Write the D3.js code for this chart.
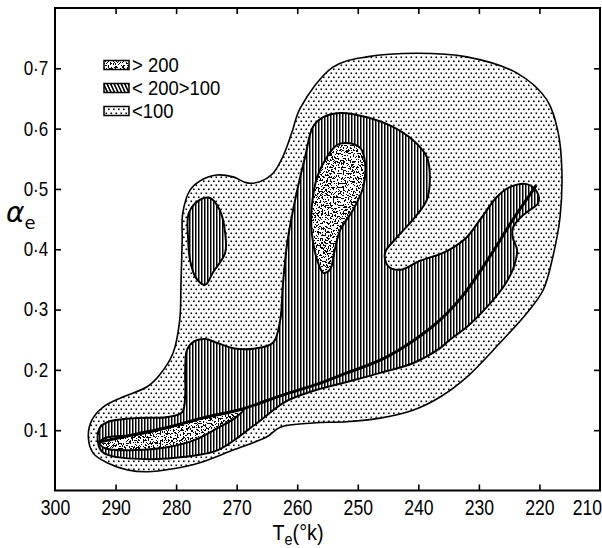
<!DOCTYPE html>
<html><head><meta charset="utf-8">
<script src="https://cdn.jsdelivr.net/npm/d3@7"></script>
<style>body{margin:0;background:#fff}svg{display:block}</style>
</head><body>
<svg id="chart" width="602" height="548"></svg>
<script>
// ---------- data (T_e in K, alpha_e) ----------
const xTickValues = [300,290,280,270,260,250,240,230,220,210];
const yTickValues = [0.1,0.2,0.3,0.4,0.5,0.6,0.7];
const legendLabels = ["> 200", "< 200>100", "<100"];

// boundary of the "<100" region (outer contour)
const outerLow = [[294.5,0.089],[293.9,0.117],[292.1,0.138],[288.8,0.155],[284.8,0.172],[282.7,0.192],[280.5,0.228],[279.4,0.283],[279.2,0.341],[279.0,0.415],[278.9,0.460],[277.7,0.498],[276.1,0.513],[273.3,0.523],[270.6,0.520],[268.3,0.510],[266.2,0.512],[264.0,0.526],[262.4,0.553],[260.9,0.593],[259.5,0.634],[254.1,0.702],[248.5,0.719],[240.2,0.725],[232.0,0.719],[223.7,0.692],[218.8,0.648],[216.9,0.593],[216.3,0.531],[216.6,0.453],[217.8,0.387],[219.4,0.332],[222.1,0.294],[226.5,0.245],[232.0,0.188],[236.4,0.155],[240.9,0.133],[246.3,0.120],[251.8,0.114],[257.4,0.112],[262.8,0.105],[265.0,0.089],[270.6,0.067],[276.1,0.046],[280.5,0.036],[284.8,0.031],[288.0,0.034],[291.4,0.046],[293.7,0.062]];

// "<200 >100" regions
const midLobe = [[277.9,0.460],[276.1,0.482],[274.4,0.485],[272.8,0.465],[271.9,0.427],[271.9,0.394],[273.9,0.362],[275.2,0.341],[276.7,0.352],[277.7,0.382],[278.0,0.415]];
const midMain = [[278.5,0.200],[278.2,0.233],[277.2,0.246],[275.2,0.251],[273.3,0.245],[270.6,0.236],[267.3,0.235],[264.0,0.245],[262.8,0.283],[262.4,0.337],[261.7,0.407],[261.0,0.449],[260.0,0.498],[258.7,0.553],[257.4,0.603],[255.7,0.619],[252.9,0.626],[248.5,0.619],[244.2,0.603],[240.9,0.581],[238.6,0.553],[238.1,0.520],[238.6,0.482],[240.9,0.449],[243.5,0.420],[245.5,0.394],[245.0,0.372],[243.0,0.366],[239.7,0.381],[236.4,0.392],[234.4,0.402],[232.0,0.420],[229.8,0.449],[227.0,0.487],[224.9,0.503],[222.1,0.508],[220.4,0.495],[220.2,0.477],[221.6,0.465],[223.2,0.452],[224.4,0.435],[224.4,0.419],[223.7,0.399],[224.4,0.366],[226.0,0.337],[228.7,0.304],[232.0,0.271],[234.8,0.250],[236.4,0.236],[240.9,0.211],[246.3,0.195],[251.8,0.180],[257.4,0.165],[262.0,0.147],[267.0,0.109],[273.1,0.067],[278.5,0.056],[284.0,0.052],[290.6,0.057],[292.2,0.064],[292.9,0.080],[292.6,0.104],[291.2,0.114],[286.8,0.120],[281.3,0.122],[279.0,0.130],[278.5,0.158]];

// "> 200" regions
const highUpper = [[253.4,0.573],[251.8,0.576],[249.6,0.568],[248.8,0.543],[249.1,0.503],[250.8,0.465],[252.9,0.432],[253.8,0.399],[254.6,0.366],[255.7,0.361],[256.7,0.382],[257.6,0.427],[257.6,0.470],[256.7,0.520],[255.1,0.553]];
const highTongue = [[292.6,0.079],[291.7,0.087],[286.8,0.092],[281.3,0.104],[275.7,0.120],[271.4,0.130],[268.8,0.135],[270.3,0.120],[273.1,0.104],[276.9,0.084],[281.3,0.072],[286.8,0.067],[291.7,0.070]];

// bold ridge curve
const ridgeLine = [[292.3,0.081],[286.8,0.093],[281.3,0.105],[275.7,0.120],[269.1,0.135],[262.8,0.157],[256.2,0.178],[251.8,0.195],[246.3,0.216],[240.9,0.248],[236.4,0.283],[232.6,0.324],[229.3,0.371],[226.5,0.415],[224.4,0.449],[222.1,0.483],[220.6,0.505]];

// ---------- layout ----------
const W = 602, H = 548;
const mL = 55, mR = 600, mT = 8, mB = 490.5;
const svg = d3.select("#chart");
const x = d3.scaleLinear().domain([300,210]).range([mL,mR]);
const y = d3.scaleLinear().domain([0,0.8]).range([mB,mT]);
const font = "'Liberation Sans', Arial, sans-serif";

// ---------- patterns ----------
const defs = svg.append("defs");
const dots = defs.append("pattern").attr("id","dots").attr("patternUnits","userSpaceOnUse")
  .attr("width",5).attr("height",8);
dots.append("rect").attr("width",5).attr("height",8).attr("fill","#fff");
dots.append("rect").attr("x",0.5).attr("y",0.5).attr("width",1.6).attr("height",1.6).attr("fill","#000");
dots.append("rect").attr("x",3.0).attr("y",4.5).attr("width",1.6).attr("height",1.6).attr("fill","#000");

const hatch = defs.append("pattern").attr("id","hatch").attr("patternUnits","userSpaceOnUse")
  .attr("width",3).attr("height",10);
hatch.append("rect").attr("width",3).attr("height",10).attr("fill","#fff");
hatch.append("rect").attr("x",0).attr("width",1.5).attr("height",10).attr("fill","#000");

const hatchD = defs.append("pattern").attr("id","hatchD").attr("patternUnits","userSpaceOnUse")
  .attr("width",3.2).attr("height",10).attr("patternTransform","rotate(-25)");
hatchD.append("rect").attr("width",3.2).attr("height",10).attr("fill","#fff");
hatchD.append("rect").attr("width",1.6).attr("height",10).attr("fill","#000");

const filt = defs.append("filter").attr("id","speckle").attr("filterUnits","userSpaceOnUse")
  .attr("x",0).attr("y",0).attr("width",W).attr("height",H)
  .attr("color-interpolation-filters","sRGB");
filt.append("feTurbulence").attr("type","fractalNoise").attr("baseFrequency",0.6)
  .attr("numOctaves",2).attr("seed",7).attr("result","noise");
filt.append("feColorMatrix").attr("type","matrix")
  .attr("values","0 0 0 0 0  0 0 0 0 0  0 0 0 0 0  -5 0 0 0 2.75");
const ct = filt.append("feComponentTransfer");
ct.append("feFuncA").attr("type","discrete").attr("tableValues","0 1");

const closed = d3.line().x(d=>x(d[0])).y(d=>y(d[1])).curve(d3.curveCatmullRomClosed.alpha(0.5));
const open = d3.line().x(d=>x(d[0])).y(d=>y(d[1])).curve(d3.curveCatmullRom.alpha(0.5));

// ---------- regions ----------
const g = svg.append("g");
g.append("path").attr("d",closed(outerLow)).attr("fill","url(#dots)")
  .attr("stroke","#000").attr("stroke-width",1.6);

[midMain, midLobe].forEach(r => {
  g.append("path").attr("d",closed(r)).attr("fill","url(#hatch)")
    .attr("stroke","#000").attr("stroke-width",2);
});

[highUpper, highTongue].forEach((r,i) => {
  const id = "clipHigh"+i;
  defs.append("clipPath").attr("id",id).append("path").attr("d",closed(r));
  const cg = g.append("g").attr("clip-path",`url(#${id})`);
  cg.append("rect").attr("x",mL).attr("y",mT).attr("width",mR-mL).attr("height",mB-mT).attr("fill","#fff");
  cg.append("rect").attr("x",mL).attr("y",mT).attr("width",mR-mL).attr("height",mB-mT)
    .attr("fill","#000").attr("filter","url(#speckle)");
  g.append("path").attr("d",closed(r)).attr("fill","none").attr("stroke","#000").attr("stroke-width",2);
});

g.append("path").attr("d",open(ridgeLine)).attr("fill","none")
  .attr("stroke","#000").attr("stroke-width",3).attr("stroke-linecap","round");

// ---------- axes ----------
const inner = [290,280,270,260,250,240,230,220];
const ax = svg.append("g");
const bottomAxis = d3.axisBottom(x).tickValues(xTickValues).tickSizeInner(-6).tickSizeOuter(0).tickPadding(9)
  .tickFormat(d3.format("d"));
const bA = ax.append("g").attr("transform",`translate(0,${mB})`).call(bottomAxis);
bA.selectAll(".tick line").filter(d => d===300 || d===210).remove();
const topAxis = d3.axisTop(x).tickValues(inner).tickSizeInner(-6).tickSizeOuter(0).tickFormat("");
ax.append("g").attr("transform",`translate(0,${mT})`).call(topAxis);
const leftAxis = d3.axisLeft(y).tickValues(yTickValues).tickSizeInner(-6).tickSizeOuter(0).tickPadding(8)
  .tickFormat(d => d3.format(".1f")(d).replace(".","\u00B7"));
const lA = ax.append("g").attr("transform",`translate(${mL},0)`).call(leftAxis);
const rightAxis = d3.axisRight(y).tickValues(yTickValues).tickSizeInner(-6).tickSizeOuter(0).tickFormat("");
ax.append("g").attr("transform",`translate(${mR},0)`).call(rightAxis);
ax.selectAll(".domain").remove();
ax.selectAll(".tick line").attr("stroke","#000").attr("stroke-width",1.6);
bA.selectAll("text").attr("font-family",font).attr("font-size",22).attr("fill","#000")
  .attr("transform","scale(0.8,1)");
// keep the last label inside the page, as in the reference
bA.selectAll(".tick text").filter(d => d===210).attr("text-anchor","end").attr("x",2);
lA.selectAll("text").attr("font-family",font).attr("font-size",20).attr("fill","#000")
  .attr("transform","scale(0.85,1)");

svg.append("rect").attr("x",mL).attr("y",mT).attr("width",mR-mL).attr("height",mB-mT)
  .attr("fill","none").attr("stroke","#000").attr("stroke-width",2);

// axis titles
const xt = svg.append("text").attr("transform","translate(298,540) scale(0.9,1)")
  .attr("text-anchor","middle").attr("font-family",font).attr("font-size",22).attr("fill","#000");
xt.append("tspan").text("T");
xt.append("tspan").attr("dy",5).attr("font-size",16).text("e");
xt.append("tspan").attr("dy",-5).text("(\u00B0k)");

const yt = svg.append("text").attr("x",6).attr("y",222).attr("font-family","'DejaVu Sans', sans-serif")
  .attr("fill","#000");
yt.append("tspan").attr("font-size",28).attr("font-style","italic").text("\u03B1");
yt.append("tspan").attr("dy",7).attr("font-size",18).text("e");

// ---------- legend ----------
const legFills = ["speckle","url(#hatchD)","url(#dots)"];
const leg = svg.append("g");
legendLabels.forEach((lab,i) => {
  const cy = 65 + i*23;
  const bx = 104, bw = 25, bh = 9;
  if (legFills[i] === "speckle") {
    defs.append("clipPath").attr("id","legClip").append("rect")
      .attr("x",bx).attr("y",cy-bh/2).attr("width",bw).attr("height",bh);
    const lg = leg.append("g").attr("clip-path","url(#legClip)");
    lg.append("rect").attr("x",bx).attr("y",cy-bh/2).attr("width",bw).attr("height",bh).attr("fill","#fff");
    lg.append("rect").attr("x",bx).attr("y",cy-bh/2).attr("width",bw).attr("height",bh).attr("fill","#000").attr("filter","url(#speckle)");
    leg.append("rect").attr("x",bx).attr("y",cy-bh/2).attr("width",bw).attr("height",bh)
      .attr("fill","none").attr("stroke","#000").attr("stroke-width",1.5);
  } else {
    leg.append("rect").attr("x",bx).attr("y",cy-bh/2).attr("width",bw).attr("height",bh)
      .attr("fill",legFills[i]).attr("stroke","#000").attr("stroke-width",1.5);
  }
  leg.append("text").attr("transform",`translate(${bx+bw+3},${cy+7}) scale(0.88,1)`)
    .attr("font-family",font).attr("font-size",21).attr("fill","#000").text(lab);
});
</script>
</body></html>
